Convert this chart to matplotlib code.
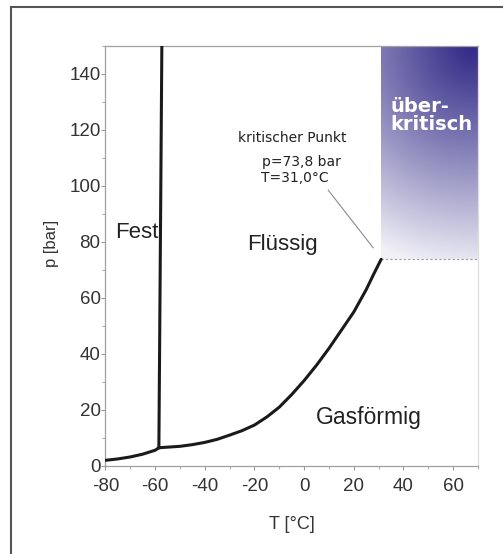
import numpy as np
import matplotlib.pyplot as plt
from matplotlib.lines import Line2D
from matplotlib.ticker import MultipleLocator

plt.rcParams["font.family"] = ["Liberation Sans", "DejaVu Sans"]
plt.rcParams["axes.unicode_minus"] = False

# Sublimationskurve (fest - gasförmig)
subl_T = [-80, -75, -70, -65, -60, -58.5]
subl_p = [2.0, 2.5, 3.2, 4.2, 5.6, 6.5]

# Dampfdruckkurve (flüssig - gasförmig) bis zum kritischen Punkt
dampf_T = [-58.5, -55, -50, -45, -40, -35, -30, -25, -20, -15, -10, -5,
           0, 5, 10, 15, 20, 25, 28, 31]
dampf_p = [6.5, 6.7, 7.0, 7.6, 8.4, 9.5, 11.0, 12.6, 14.6, 17.5, 21.0, 25.5,
           30.5, 36.0, 42.0, 48.5, 55.0, 63.0, 68.5, 73.8]

# Schmelzdruckkurve (fest - flüssig)
schmelz_T = [-58.5, -57.3]
schmelz_p = [6.5, 150]

krit_T = 31.0
krit_p = 73.8

fig = plt.figure(figsize=(5.03, 5.54), dpi=100)
ax = fig.add_axes([0.2097, 0.159, 0.7406, 0.758])

xmin, xmax, ymin, ymax = -80, 70, 0, 150

# überkritischer Bereich als Farbverlauf
gx = np.linspace(krit_T, xmax, 200)
gy = np.linspace(krit_p, ymax, 300)
GX, GY = np.meshgrid(gx, gy)
d = np.sqrt(((GX - 68) / 85) ** 2 + ((GY - 150) / 80) ** 2)
t = np.clip(d, 0, 1) ** 1.1 * 0.93
dark = np.array([50, 42, 135]) / 255
white = np.array([1.0, 1.0, 1.0])
img = dark[None, None, :] * (1 - t[..., None]) + white[None, None, :] * t[..., None]
ax.imshow(img, origin="lower", extent=[krit_T, xmax, krit_p, ymax],
          aspect="auto", interpolation="bilinear", zorder=0)
ax.plot([krit_T, xmax], [krit_p, krit_p], ls=(0, (2, 2)), color="#999999", lw=0.8, zorder=1)

ax.plot(subl_T, subl_p, color="#1a1a1a", lw=2.2, solid_capstyle="round", zorder=3)
ax.plot(dampf_T, dampf_p, color="#1a1a1a", lw=2.2, solid_capstyle="round", zorder=3)
ax.plot(schmelz_T, schmelz_p, color="#1a1a1a", lw=2.2, zorder=3)

# Hinweis auf den kritischen Punkt
ax.plot([9.7, 27.8], [98.5, 77.9], color="#8a8a8a", lw=0.8, zorder=2)
ax.text(-4.6, 117, "kritischer Punkt", fontsize=10, ha="center", va="center",
        color="#222222", family=["DejaVu Sans"])
ax.text(-16.8, 108.6, "p=73,8 bar", fontsize=10, ha="left", va="center",
        color="#222222", family=["DejaVu Sans"])
ax.text(-17.2, 103.0, "T=31,0°C", fontsize=10, ha="left", va="center",
        color="#222222", family=["DejaVu Sans"])

ax.text(-76.2, 83.5, "Fest", fontsize=16, ha="left", va="center", color="#222222")
ax.text(-23, 79.1, "Flüssig", fontsize=16, ha="left", va="center", color="#222222")
ax.text(4.8, 17.2, "Gasförmig", fontsize=16.5, ha="left", va="center", color="#222222")
ax.text(34.8, 128.5, "über-", fontsize=14, ha="left", va="center", color="white",
        weight="bold", family=["DejaVu Sans"])
ax.text(34.8, 122.0, "kritisch", fontsize=14, ha="left", va="center", color="white",
        weight="bold", family=["DejaVu Sans"])

ax.set_xlim(xmin, xmax)
ax.set_ylim(ymin, ymax)
ax.xaxis.set_minor_locator(MultipleLocator(10))
ax.yaxis.set_minor_locator(MultipleLocator(10))
ax.set_xticks(np.arange(-80, 61, 20))
ax.set_yticks(np.arange(0, 141, 20))
ax.tick_params(which="major", direction="out", length=3, width=0.8, color="#999999",
               labelsize=13.5, labelcolor="#333333")
ax.tick_params(axis="x", which="major", pad=6)
ax.tick_params(axis="y", which="major", pad=0.5)
ax.tick_params(which="minor", direction="out", length=2, width=0.8, color="#aaaaaa")
for s in ax.spines.values():
    s.set_color("#a0a0a0")
    s.set_linewidth(0.9)
ax.spines["right"].set_color("#dddddd")

ax.set_xlabel("T [°C]", fontsize=13, color="#333333", labelpad=15)
ax.set_ylabel("p [bar]", fontsize=12, color="#333333")
ax.yaxis.set_label_coords(-0.125, 0.53)

# Rahmen um die Abbildung
fig.add_artist(Line2D([0.0219, 1.0], [0.988, 0.988], color="#555555", lw=1.5))
fig.add_artist(Line2D([0.0219, 0.0219], [0.0, 0.988], color="#555555", lw=1.5))

fig.savefig("out.png", dpi=100)
